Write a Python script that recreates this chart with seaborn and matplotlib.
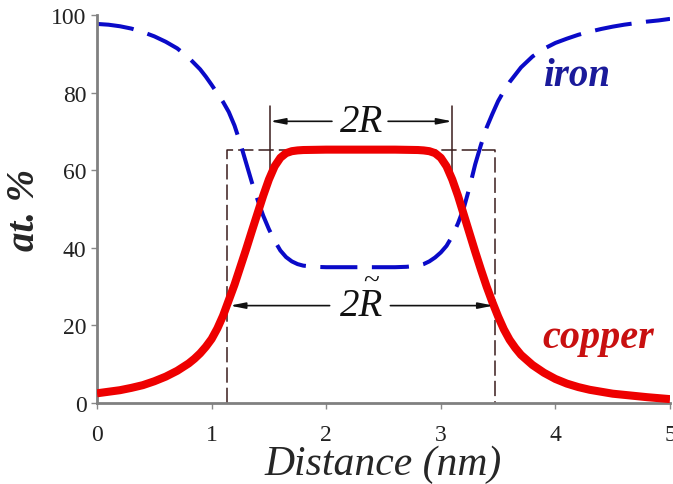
import matplotlib
matplotlib.use("Agg")
import matplotlib.pyplot as plt
import seaborn as sns
import pandas as pd

# --- data ---
copper_x = [0.0, 0.1, 0.2, 0.3, 0.4, 0.5, 0.6, 0.7, 0.8, 0.85, 0.9, 0.95, 1.0, 1.05, 1.1,
            1.15, 1.2, 1.25, 1.3, 1.35, 1.4, 1.45, 1.5, 1.55, 1.6, 1.65, 1.7, 1.75, 1.8,
            2.0, 2.3, 2.6, 2.8, 2.85, 2.9, 2.95, 3.0, 3.05, 3.1, 3.15, 3.2, 3.25, 3.3,
            3.35, 3.4, 3.45, 3.5, 3.55, 3.6, 3.65, 3.7, 3.8, 3.9, 4.0, 4.1, 4.2, 4.3,
            4.4, 4.5, 4.6, 4.7, 4.8, 4.9, 5.0]
copper_y = [2.5, 2.9, 3.3, 3.9, 4.6, 5.6, 6.8, 8.3, 10.2, 11.4, 12.8, 14.5, 16.5, 19.2, 22.5,
            26.5, 30.5, 35.0, 39.5, 44.2, 48.8, 53.4, 57.6, 61.0, 63.2, 64.4, 64.9, 65.1, 65.2,
            65.3, 65.3, 65.3, 65.2, 65.1, 64.9, 64.4, 63.2, 61.0, 57.6, 53.4, 48.6, 43.8, 39.0,
            34.4, 30.0, 26.0, 22.3, 19.0, 16.3, 14.2, 12.4, 9.8, 7.8, 6.2, 5.0, 4.1, 3.4,
            2.9, 2.4, 2.1, 1.8, 1.5, 1.25, 1.0]

iron_x = [0.0, 0.1, 0.2, 0.3, 0.4, 0.5, 0.6, 0.7, 0.8, 0.9, 0.95, 1.0, 1.05, 1.1, 1.15,
          1.2, 1.25, 1.3, 1.35, 1.4, 1.45, 1.5, 1.55, 1.6, 1.65, 1.7, 1.75, 1.8, 1.9,
          2.0, 2.3, 2.6, 2.7, 2.8, 2.85, 2.9, 2.95, 3.0, 3.05, 3.1, 3.15, 3.2, 3.25,
          3.3, 3.35, 3.4, 3.45, 3.5, 3.55, 3.6, 3.7, 3.8, 3.9, 4.0, 4.1, 4.2, 4.3,
          4.4, 4.5, 4.6, 4.7, 4.8, 4.9, 5.0]
iron_y = [97.7, 97.5, 97.1, 96.5, 95.6, 94.5, 93.1, 91.4, 89.0, 86.0, 84.1, 82.0, 79.8, 77.6, 75.0,
          71.5, 67.0, 62.0, 57.0, 52.5, 48.3, 44.8, 41.8, 39.3, 37.6, 36.5, 35.8, 35.4, 35.1,
          35.0, 35.0, 35.0, 35.1, 35.4, 35.8, 36.5, 37.5, 38.8, 40.5, 43.0, 46.3, 50.2, 55.5,
          61.5, 66.5, 71.0, 74.5, 77.8, 80.4, 82.7, 86.5, 89.3, 91.3, 92.8, 93.9, 94.9, 95.7,
          96.4, 97.0, 97.5, 97.9, 98.3, 98.6, 99.0]

x_ticks = [0, 1, 2, 3, 4, 5]
y_ticks = [0, 20, 40, 60, 80, 100]

# annotation geometry (data units)
r_tilde_left, r_tilde_right, r_tilde_level, plateau = 1.135, 3.47, 25.1, 65.3
r_left, r_right, r_level = 1.51, 3.10, 72.6

sns.set_style("ticks")
plt.rcParams["font.family"] = ["Liberation Serif", "DejaVu Serif"]

fig = plt.figure(figsize=(6.73, 4.85), dpi=100)
ax = fig.add_axes([97 / 673, 81 / 485, 573 / 673, 388 / 485])

df_cu = pd.DataFrame({"x": copper_x, "y": copper_y})
df_fe = pd.DataFrame({"x": iron_x, "y": iron_y})

ann_color = "#3a1c1c"
# dashed rectangle for 2R~
ax.plot([r_tilde_left, r_tilde_left, r_tilde_right, r_tilde_right],
        [0, plateau, plateau, 0], color=ann_color, lw=1.1,
        linestyle=(0, (10, 3.3)), zorder=1)

sns.lineplot(data=df_fe, x="x", y="y", ax=ax, color="#0a0ac8", lw=2.9,
             linestyle=(0, (9.2, 3.6)), zorder=2)
sns.lineplot(data=df_cu, x="x", y="y", ax=ax, color="#ee0000", lw=5.8, zorder=3,
             solid_capstyle="butt", solid_joinstyle="round")

# 2R solid vertical markers
ax.plot([r_left, r_left], [59, 76.5], color=ann_color, lw=1.1, zorder=1)
ax.plot([r_right, r_right], [59.5, 76.5], color=ann_color, lw=1.1, zorder=1)

arrow_kw = dict(arrowstyle="-|>,head_length=0.9,head_width=0.18", color="#111111",
                lw=1.2, shrinkA=0, shrinkB=0)
text_kw = dict(fontsize=28, fontstyle="italic", ha="center", va="center",
               color="#111111")
# top 2R
ax.annotate("", xy=(r_left, r_level), xytext=(2.05, r_level), arrowprops=arrow_kw)
ax.annotate("", xy=(r_right, r_level), xytext=(2.54, r_level), arrowprops=arrow_kw)
ax.text(2.31, r_level, "2R", **text_kw)
# bottom 2R~
ax.annotate("", xy=(r_tilde_left + 0.025, r_tilde_level), xytext=(2.03, r_tilde_level),
            arrowprops=arrow_kw)
ax.annotate("", xy=(r_tilde_right - 0.01, r_tilde_level), xytext=(2.56, r_tilde_level),
            arrowprops=arrow_kw)
ax.text(2.31, r_tilde_level, "2R", **text_kw)
ax.text(2.395, 31.2, "~", fontsize=21, ha="center", va="center", color="#111111")

ax.text(3.89, 84.5, "iron", fontsize=28, fontweight="bold", fontstyle="italic",
        color="#1a1a9a", ha="left", va="center")
ax.text(3.89, 17, "copper", fontsize=29, fontweight="bold", fontstyle="italic",
        color="#c81010", ha="left", va="center")

ax.set_xlim(0, 5)
ax.set_ylim(0, 100)
ax.set_xticks(x_ticks)
ax.set_xticklabels([str(v) for v in x_ticks])
ax.set_yticks(y_ticks)
ax.set_yticklabels([str(v) for v in y_ticks])
ax.tick_params(labelsize=17, length=4, width=1, color="#888888", labelcolor="#222222")
ax.tick_params(axis="x", pad=11)
ax.set_xlabel("Distance (nm)", fontsize=30, fontstyle="italic", labelpad=0)
ax.set_ylabel("at. %", fontsize=28, fontstyle="italic", fontweight="bold", labelpad=6)

sns.despine(ax=ax)
for s in ("left", "bottom"):
    ax.spines[s].set_color("#808080")
    ax.spines[s].set_linewidth(2)

fig.savefig("out.png", dpi=100)
